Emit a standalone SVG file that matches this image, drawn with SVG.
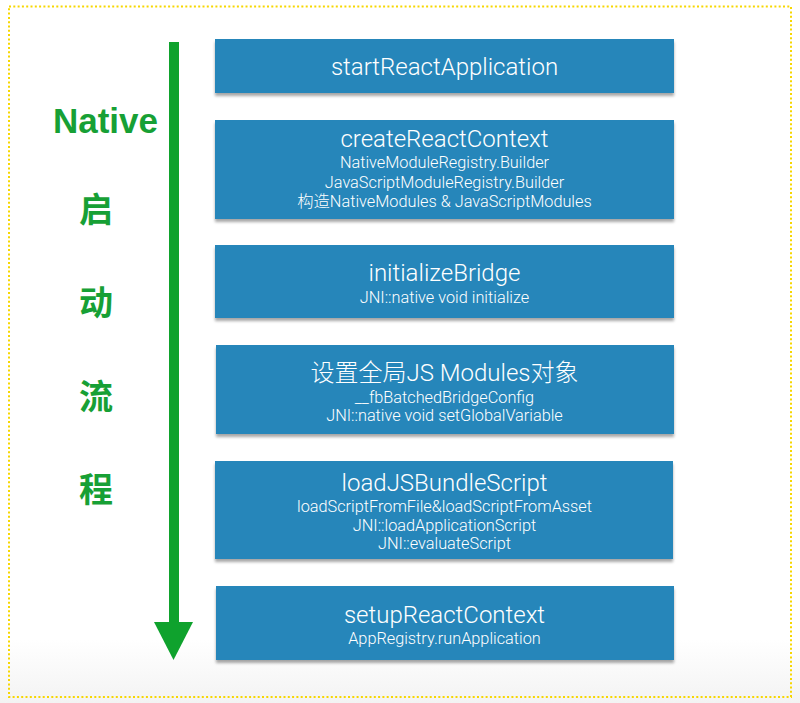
<svg xmlns="http://www.w3.org/2000/svg" width="800" height="703" viewBox="0 0 800 703">
<defs>
<linearGradient id="bg" x1="0" y1="0" x2="0" y2="1">
<stop offset="0" stop-color="#ffffff"/>
<stop offset="1" stop-color="#f3f3f3"/>
</linearGradient>
<filter id="sh" x="-5%" y="-20%" width="110%" height="150%">
<feGaussianBlur in="SourceAlpha" stdDeviation="1.5"/>
<feOffset dx="0" dy="2.5" result="b"/>
<feComponentTransfer><feFuncA type="linear" slope="0.35"/></feComponentTransfer>
<feMerge><feMergeNode/><feMergeNode in="SourceGraphic"/></feMerge>
</filter>
<style>
.box{fill:#2586ba;filter:url(#sh)}
.t{font-family:Roboto,"Liberation Sans","Noto Sans CJK SC",sans-serif;font-weight:300;fill:#ffffff;text-anchor:middle}
.h{font-size:24px}
.s{font-size:16.3px}
.g{font-family:"Liberation Sans","Noto Sans CJK SC",sans-serif;font-weight:bold;fill:#17a035;text-anchor:middle}
.c{font-family:"Noto Sans CJK SC",sans-serif}
</style>
</defs>
<rect x="0" y="0" width="800" height="703" fill="#ffffff"/>
<rect x="0" y="640" width="800" height="63" fill="url(#bg)"/>
<rect x="9" y="6.5" width="782" height="690.5" fill="none" stroke="#f7d700" stroke-width="2" stroke-dasharray="2 2.3"/>

<g id="connectors">
<rect x="169" y="42" width="10" height="582" fill="#0fa22d"/>
<polygon points="154,622 193,622 173.5,660" fill="#0fa22d"/>
</g>

<g id="label">
<text class="g" x="105.5" y="133" font-size="35">Native</text>
<text class="g c" x="96" y="222" font-size="34">启</text>
<text class="g c" x="96" y="315" font-size="34">动</text>
<text class="g c" x="96" y="409" font-size="34">流</text>
<text class="g c" x="96" y="502" font-size="34">程</text>
</g>

<g id="n1">
<rect class="box" x="215" y="39" width="459" height="54"/>
<text class="t h" x="444.5" y="75">startReactApplication</text>
</g>

<g id="n2">
<rect class="box" x="215" y="120" width="459" height="99"/>
<text class="t h" x="444.5" y="147">createReactContext</text>
<text class="t s" x="444.5" y="168">NativeModuleRegistry.Builder</text>
<text class="t s" x="444.5" y="188">JavaScriptModuleRegistry.Builder</text>
<text class="t s" x="444.5" y="207">构造NativeModules &amp; JavaScriptModules</text>
</g>

<g id="n3">
<rect class="box" x="215" y="245" width="459" height="73"/>
<text class="t h" x="444.5" y="281">initializeBridge</text>
<text class="t s" x="444.5" y="303">JNI::native void initialize</text>
</g>

<g id="n4">
<rect class="box" x="216" y="345" width="458" height="89"/>
<text class="t h" x="444.5" y="381">设置全局JS Modules对象</text>
<text class="t s" x="444.5" y="403">__fbBatchedBridgeConfig</text>
<text class="t s" x="444.5" y="421">JNI::native void setGlobalVariable</text>
</g>

<g id="n5">
<rect class="box" x="215" y="461" width="458" height="98"/>
<text class="t h" x="444.5" y="491">loadJSBundleScript</text>
<text class="t s" x="444.5" y="512">loadScriptFromFile&amp;loadScriptFromAsset</text>
<text class="t s" x="444.5" y="531">JNI::loadApplicationScript</text>
<text class="t s" x="444.5" y="549">JNI::evaluateScript</text>
</g>

<g id="n6">
<rect class="box" x="216" y="586" width="458" height="74"/>
<text class="t h" x="444.5" y="623">setupReactContext</text>
<text class="t s" x="444.5" y="644">AppRegistry.runApplication</text>
</g>
</svg>
